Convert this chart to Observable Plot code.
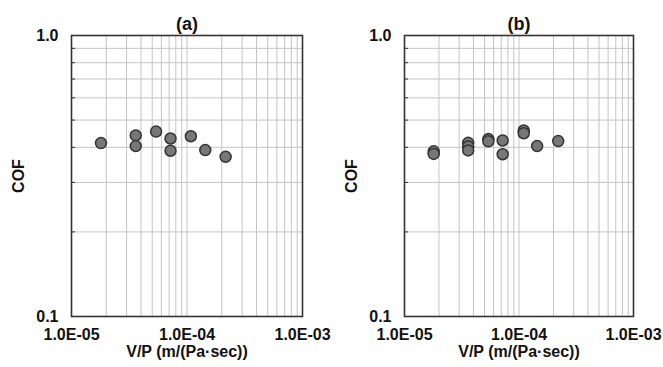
<!DOCTYPE html>
<html>
<head>
<meta charset="utf-8">
<script src="https://cdn.jsdelivr.net/npm/d3@7"></script>
<script src="https://cdn.jsdelivr.net/npm/@observablehq/plot@0.6"></script>
<style>
  html, body { margin: 0; padding: 0; background: #fff; }
  #wrap { display: flex; flex-direction: row; width: 663px; height: 367px; }
  #wrap svg { font-family: "Liberation Sans", Arial, sans-serif; font-weight: bold; }
</style>
</head>
<body>
<div id="wrap"></div>
<script>
// Panel (a)
const aX = [1.8e-5, 3.6e-5, 3.6e-5, 5.4e-5, 7.2e-5, 7.2e-5, 1.08e-4, 1.44e-4, 2.16e-4];
const aY = [0.414, 0.441, 0.404, 0.455, 0.430, 0.389, 0.438, 0.391, 0.370];
// Panel (b)
const bX = [1.8e-5, 1.8e-5, 3.6e-5, 3.6e-5, 3.6e-5, 5.4e-5, 5.4e-5, 7.2e-5, 7.2e-5, 1.1e-4, 1.1e-4, 1.44e-4, 2.2e-4];
const bY = [0.387, 0.379, 0.415, 0.403, 0.390, 0.428, 0.420, 0.423, 0.378, 0.459, 0.449, 0.404, 0.421];

const panelTitles = ["(a)", "(b)"];
const xTicks = [1e-5, 1e-4, 1e-3];
const xTickLabels = ["1.0E-05", "1.0E-04", "1.0E-03"];
const yTicks = [0.1, 1.0];
const yTickLabels = ["0.1", "1.0"];
const xGrid = [2e-5, 3e-5, 4e-5, 5e-5, 6e-5, 7e-5, 8e-5, 9e-5, 1e-4, 2e-4, 3e-4, 4e-4, 5e-4, 6e-4, 7e-4, 8e-4, 9e-4];
const yGrid = [0.2, 0.3, 0.4, 0.5, 0.6, 0.7, 0.8, 0.9];
const xLabel = "V/P (m/(Pa·sec))";
const yLabel = "COF";

function panel(xs, ys, title, width, mLeft, mRight) {
  const data = xs.map((x, i) => ({x, y: ys[i]}));
  return Plot.plot({
    width, height: 367,
    marginLeft: mLeft, marginRight: mRight, marginTop: 35, marginBottom: 51,
    style: {fontFamily: "Liberation Sans, Arial, sans-serif", fontWeight: "bold", fontSize: "16px", color: "#111", background: "#fff"},
    x: {type: "log", domain: [1e-5, 1e-3]},
    y: {type: "log", domain: [0.1, 1]},
    marks: [
      Plot.ruleX(xGrid, {x: d => d, stroke: "#c4c4c4", strokeWidth: 1}),
      Plot.ruleY(yGrid, {y: d => d, stroke: "#c4c4c4", strokeWidth: 1}),
      Plot.axisY(yGrid, {anchor: "left", tickSize: 4, dx: 4, tickFormat: () => "", label: null, stroke: "#333"}),
      Plot.axisX(xTicks, {anchor: "bottom", tickSize: 0, tickPadding: 12,
        tickFormat: d => xTickLabels[xTicks.indexOf(d)],
        label: xLabel, labelAnchor: "center", labelArrow: "none", labelOffset: 40, fontSize: 16, fill: "#111"}),
      Plot.axisY(yTicks, {anchor: "left", tickSize: 0, tickPadding: 13,
        tickFormat: d => yTickLabels[yTicks.indexOf(d)],
        label: yLabel, labelAnchor: "center", labelArrow: "none", labelOffset: 59, fontSize: 16, fill: "#111"}),
      Plot.frame({stroke: "#333", strokeWidth: 1.6}),
      Plot.dot(data, {x: "x", y: "y", r: 5.5, fill: "#777", stroke: "#333", strokeWidth: 1.5}),
      Plot.text([title], {frameAnchor: "top", dy: -18, fontSize: 18, fontWeight: "bold", fill: "#111"})
    ]
  });
}

const wrap = document.getElementById("wrap");
wrap.appendChild(panel(aX, aY, panelTitles[0], 331, 71, 29));
wrap.appendChild(panel(bX, bY, panelTitles[1], 332, 73, 30));
</script>
</body>
</html>
